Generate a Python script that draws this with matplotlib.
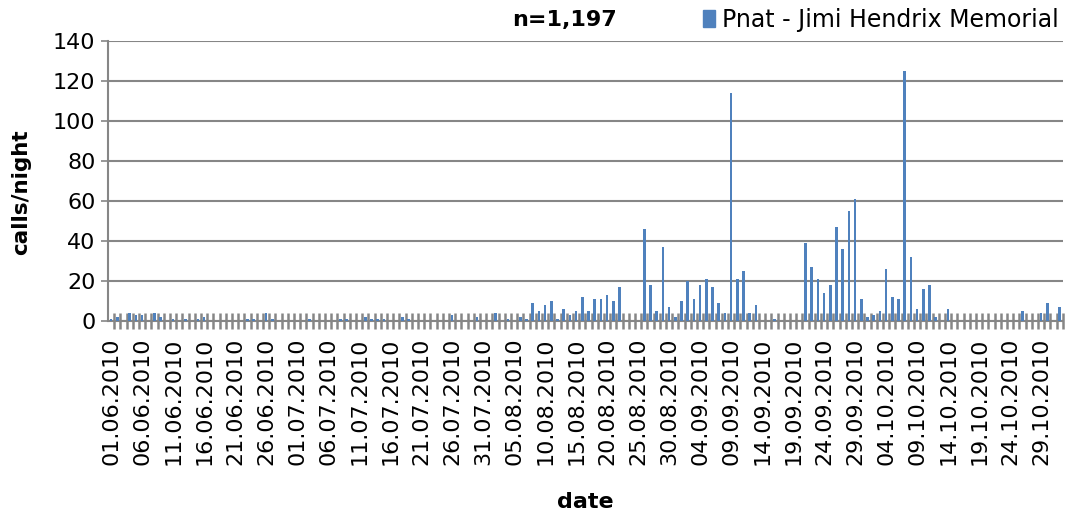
import datetime as dt
import matplotlib
matplotlib.use("Agg")
from matplotlib import pyplot as plt
from matplotlib.patches import Patch

# nightly call counts, one value per night from 01.06.2010
start_date = dt.date(2010, 6, 1)
calls = [
    1, 2, 0, 4, 3, 3, 0, 4, 2, 0,
    1, 0, 1, 0, 1, 2, 0, 0, 0, 0,
    0, 0, 1, 1, 0, 4, 1, 0, 0, 0,
    0, 0, 1, 0, 0, 0, 0, 1, 1, 0,
    0, 2, 1, 1, 1, 0, 0, 2, 1, 0,
    0, 0, 0, 0, 0, 3, 0, 0, 0, 2,
    0, 0, 4, 0, 1, 0, 2, 1, 9, 5,
    8, 10, 1, 6, 3, 5, 12, 5, 11, 11,
    13, 10, 17, 0, 0, 0, 46, 18, 5, 37,
    7, 2, 10, 20, 11, 18, 21, 17, 9, 4,
    114, 21, 25, 4, 8, 0, 0, 1, 0, 0,
    0, 0, 39, 27, 21, 14, 18, 47, 36, 55,
    61, 11, 2, 3, 5, 26, 12, 11, 125, 32,
    6, 16, 18, 2, 0, 6, 0, 0, 0, 0,
    0, 0, 0, 0, 0, 0, 0, 5, 0, 0,
    4, 9, 0, 7,
]
series_name = "Pnat - Jimi Hendrix Memorial"
label_step = 5

days = list(range(len(calls)))
day_labels = [(start_date + dt.timedelta(days=d)).strftime("%d.%m.%Y") for d in days]

blue = "#4F81BD"
grey = "#868686"

fig = plt.figure(dpi=100, figsize=(10.66, 5.15))
ax = fig.add_axes([0.1013, 0.3767, 0.8957, 0.5437])

ax.bar(days, calls, width=0.4, color=blue, zorder=3)

ax.set_xlim(-0.5, len(calls) - 0.5)
ax.set_ylim(0, 140)
ax.set_yticks(range(0, 141, 20))
ax.yaxis.grid(True, color=grey, linewidth=1.5, zorder=0)

for side in ["top", "right"]:
    ax.spines[side].set_visible(False)
ax.spines["left"].set_color(grey)
ax.spines["left"].set_linewidth(1.5)
ax.spines["bottom"].set_color(grey)
ax.spines["bottom"].set_linewidth(1.5)

# date labels every 5 nights, crossing tick marks between nights
ax.set_xticks(days[::label_step])
ax.set_xticklabels(day_labels[::label_step], rotation=90)
ax.set_xticks([d + 0.5 for d in days], minor=True)
ax.tick_params(axis="x", which="major", length=0, pad=12, labelsize=16)
ax.tick_params(axis="x", which="minor", direction="inout", length=11.5,
               width=1.8, color=grey)
ax.tick_params(axis="y", which="major", length=5, width=1.2, color=grey,
               labelsize=16, pad=4)

ax.set_ylabel("calls/night", fontsize=15.5, fontweight="bold")
ax.yaxis.set_label_coords(-0.081, 0.46)
ax.set_xlabel("date", fontsize=16, fontweight="bold", labelpad=19)

fig.text(0.53, 0.961, "n={:,}".format(sum(calls)), fontsize=16,
         fontweight="bold", ha="center", va="center")
fig.legend(handles=[Patch(color=blue, label=series_name)],
           loc="center right", bbox_to_anchor=(0.993, 0.961), frameon=False,
           fontsize=17, handlelength=0.5, handleheight=0.75, handletextpad=0.3,
           borderpad=0, borderaxespad=0)

plt.savefig("out.png", dpi=100)
